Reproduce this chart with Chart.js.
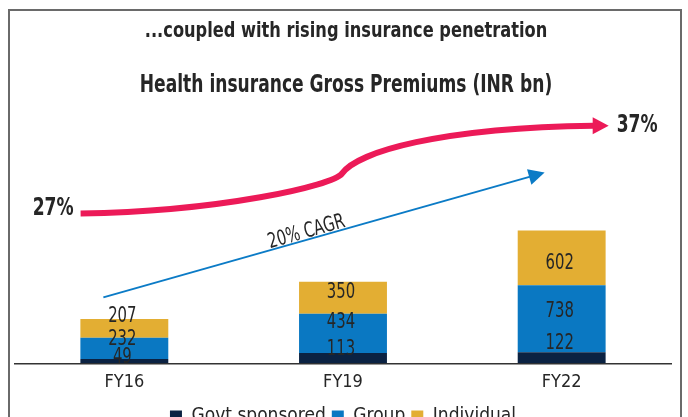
<!DOCTYPE html>
<html>
<head>
<meta charset="utf-8">
<script src="https://cdn.jsdelivr.net/npm/chart.js@4.4.0/dist/chart.umd.min.js"></script>
<style>
  html, body { margin: 0; padding: 0; background: #fff; overflow: hidden; }
  #wrap { position: relative; width: 688px; height: 436px; }
</style>
</head>
<body>
<div id="wrap"><canvas id="chart"></canvas></div>
<script>
const FONT = '"DejaVu Sans Condensed", "Liberation Sans Narrow", "Arial Narrow", sans-serif';

// data (INR bn)
const categories = ['FY16', 'FY19', 'FY22'];
const govtSponsored = [49, 113, 122];
const groupPremiums = [232, 434, 738];
const individualPremiums = [207, 350, 602];
const penetrationStart = '27%';
const penetrationEnd = '37%';
const cagrText = '20% CAGR';
const headline = '...coupled with rising insurance penetration';
const chartTitle = 'Health insurance Gross Premiums (INR bn)';

const colors = {
    govt: '#0B2242',
    group: '#0A78C2',
    individual: '#E3AE33',
    penetration: '#EC1A58',
    cagr: '#0B7BC6',
    text: '#262626',
    frame: '#6A6A6A'
};

// the original uses a tall condensed face, so squeeze the text sideways
function squeezedText(ctx, text, x, y, font, sx, align = 'center', baseline = 'middle') {
    ctx.save();
    ctx.translate(x, y);
    ctx.scale(sx, 1);
    ctx.font = font;
    ctx.textAlign = align;
    ctx.textBaseline = baseline;
    ctx.fillText(text, 0, 0);
    ctx.restore();
}

// grey box round the panel plus the two headings
const framePlugin = {
    id: 'frame',
    beforeDraw(chart) {
        const { ctx, width, height } = chart;
        ctx.save();
        ctx.fillStyle = '#fff';
        ctx.fillRect(0, 0, width, height);
        ctx.strokeStyle = colors.frame;
        ctx.lineWidth = 2;
        ctx.beginPath();
        ctx.moveTo(9, height + 5);
        ctx.lineTo(9, 10);
        ctx.lineTo(681, 10);
        ctx.lineTo(681, height + 5);
        ctx.stroke();

        ctx.fillStyle = colors.text;
        squeezedText(ctx, headline, 346, 31, `bold 22px ${FONT}`, 0.82);
        squeezedText(ctx, chartTitle, 346, 85, `bold 25px ${FONT}`, 0.76);
        ctx.restore();
    }
};

// value labels inside the stacked segments (small nudges like the original)
const segmentLabels = {
    id: 'segmentLabels',
    afterDatasetsDraw(chart, args, opts) {
        const { ctx } = chart;
        ctx.save();
        ctx.fillStyle = colors.text;
        chart.data.datasets.forEach((ds, di) => {
            chart.getDatasetMeta(di).data.forEach((bar, i) => {
                const yMid = (bar.y + bar.base) / 2 + opts.nudge[di][i];
                squeezedText(ctx, String(ds.data[i]), bar.x - 2, yMid, `22px ${FONT}`, 0.75);
            });
        });
        ctx.restore();
    }
};

function arrowHead(ctx, fromX, fromY, tipX, tipY, len, half) {
    const a = Math.atan2(tipY - fromY, tipX - fromX);
    ctx.beginPath();
    ctx.moveTo(tipX, tipY);
    ctx.lineTo(tipX - len * Math.cos(a) + half * Math.sin(a), tipY - len * Math.sin(a) - half * Math.cos(a));
    ctx.lineTo(tipX - len * Math.cos(a) - half * Math.sin(a), tipY - len * Math.sin(a) + half * Math.cos(a));
    ctx.closePath();
    ctx.fill();
}

// penetration curve and CAGR arrow, anchored to the chart's scales
const annotations = {
    id: 'annotations',
    afterDatasetsDraw(chart) {
        const { ctx, scales: { x, y } } = chart;
        const at = (i, v) => [x.getPixelForValue(i), y.getPixelForValue(v)];

        ctx.save();

        // red penetration curve with its S-bend
        const p0 = at(-0.2, 1649);
        const p1 = at(0.995, 2089);
        const p2 = at(2.146, 2616);
        const tip = at(2.215, 2616);
        ctx.strokeStyle = colors.penetration;
        ctx.fillStyle = colors.penetration;
        ctx.lineWidth = 6;
        ctx.beginPath();
        ctx.moveTo(...p0);
        ctx.bezierCurveTo(...at(0.438, 1671), ...at(0.954, 1957), ...p1);
        ctx.bezierCurveTo(...at(1.068, 2330), ...at(1.443, 2594), ...p2);
        ctx.stroke();
        arrowHead(ctx, p2[0] - 20, p2[1], tip[0], tip[1], 16, 8.5);

        ctx.fillStyle = colors.text;
        squeezedText(ctx, penetrationStart, p0[0] - 7, p0[1] - 5, `bold 25px ${FONT}`, 0.76, 'right');
        squeezedText(ctx, penetrationEnd, tip[0] + 8, tip[1], `bold 25px ${FONT}`, 0.76, 'left');

        // blue CAGR arrow
        const a0 = at(-0.096, 726);
        const aTip = at(1.922, 2100);
        const ang = Math.atan2(aTip[1] - a0[1], aTip[0] - a0[0]);
        const headLen = 16;
        ctx.strokeStyle = colors.cagr;
        ctx.fillStyle = colors.cagr;
        ctx.lineWidth = 2;
        ctx.beginPath();
        ctx.moveTo(...a0);
        ctx.lineTo(aTip[0] - (headLen - 2) * Math.cos(ang), aTip[1] - (headLen - 2) * Math.sin(ang));
        ctx.stroke();
        arrowHead(ctx, a0[0], a0[1], aTip[0], aTip[1], headLen, 8);

        // rotated CAGR label sitting on the arrow
        const t = 0.465;
        ctx.translate(a0[0] + (aTip[0] - a0[0]) * t, a0[1] + (aTip[1] - a0[1]) * t);
        ctx.rotate(ang);
        ctx.fillStyle = colors.text;
        squeezedText(ctx, cagrText, 0, -2, `21px ${FONT}`, 0.78, 'center', 'alphabetic');

        ctx.restore();
    }
};

const ctx = document.getElementById('chart').getContext('2d');

new Chart(ctx, {
    type: 'bar',
    data: {
        labels: categories,
        datasets: [
            { label: 'Govt sponsored', data: govtSponsored, backgroundColor: colors.govt },
            { label: 'Group', data: groupPremiums, backgroundColor: colors.group },
            { label: 'Individual', data: individualPremiums, backgroundColor: colors.individual }
        ]
    },
    options: {
        responsive: true,
        maintainAspectRatio: false,
        animation: false,
        devicePixelRatio: 1,
        categoryPercentage: 1,
        barPercentage: 0.402,
        layout: { padding: { left: 15, right: 17, top: 109, bottom: 0 } },
        scales: {
            x: {
                stacked: true,
                grid: { display: false, drawTicks: false },
                border: { display: true, color: '#333', width: 1.5 },
                ticks: {
                    color: colors.text,
                    font: { family: FONT, size: 18, lineHeight: 0.87 },
                    padding: 11
                }
            },
            y: {
                stacked: true,
                display: false,
                min: 0,
                max: 2800
            }
        },
        plugins: {
            title: { display: false },
            legend: {
                position: 'bottom',
                labels: {
                    color: colors.text,
                    font: { family: FONT, size: 19 },
                    boxWidth: 12,
                    boxHeight: 12,
                    padding: 6
                }
            },
            tooltip: { enabled: false },
            segmentLabels: {
                nudge: [
                    [-4, -9, -15],
                    [-9, -11, -7],
                    [-12, -5, 5]
                ]
            }
        }
    },
    plugins: [framePlugin, segmentLabels, annotations]
});
</script>
</body>
</html>
